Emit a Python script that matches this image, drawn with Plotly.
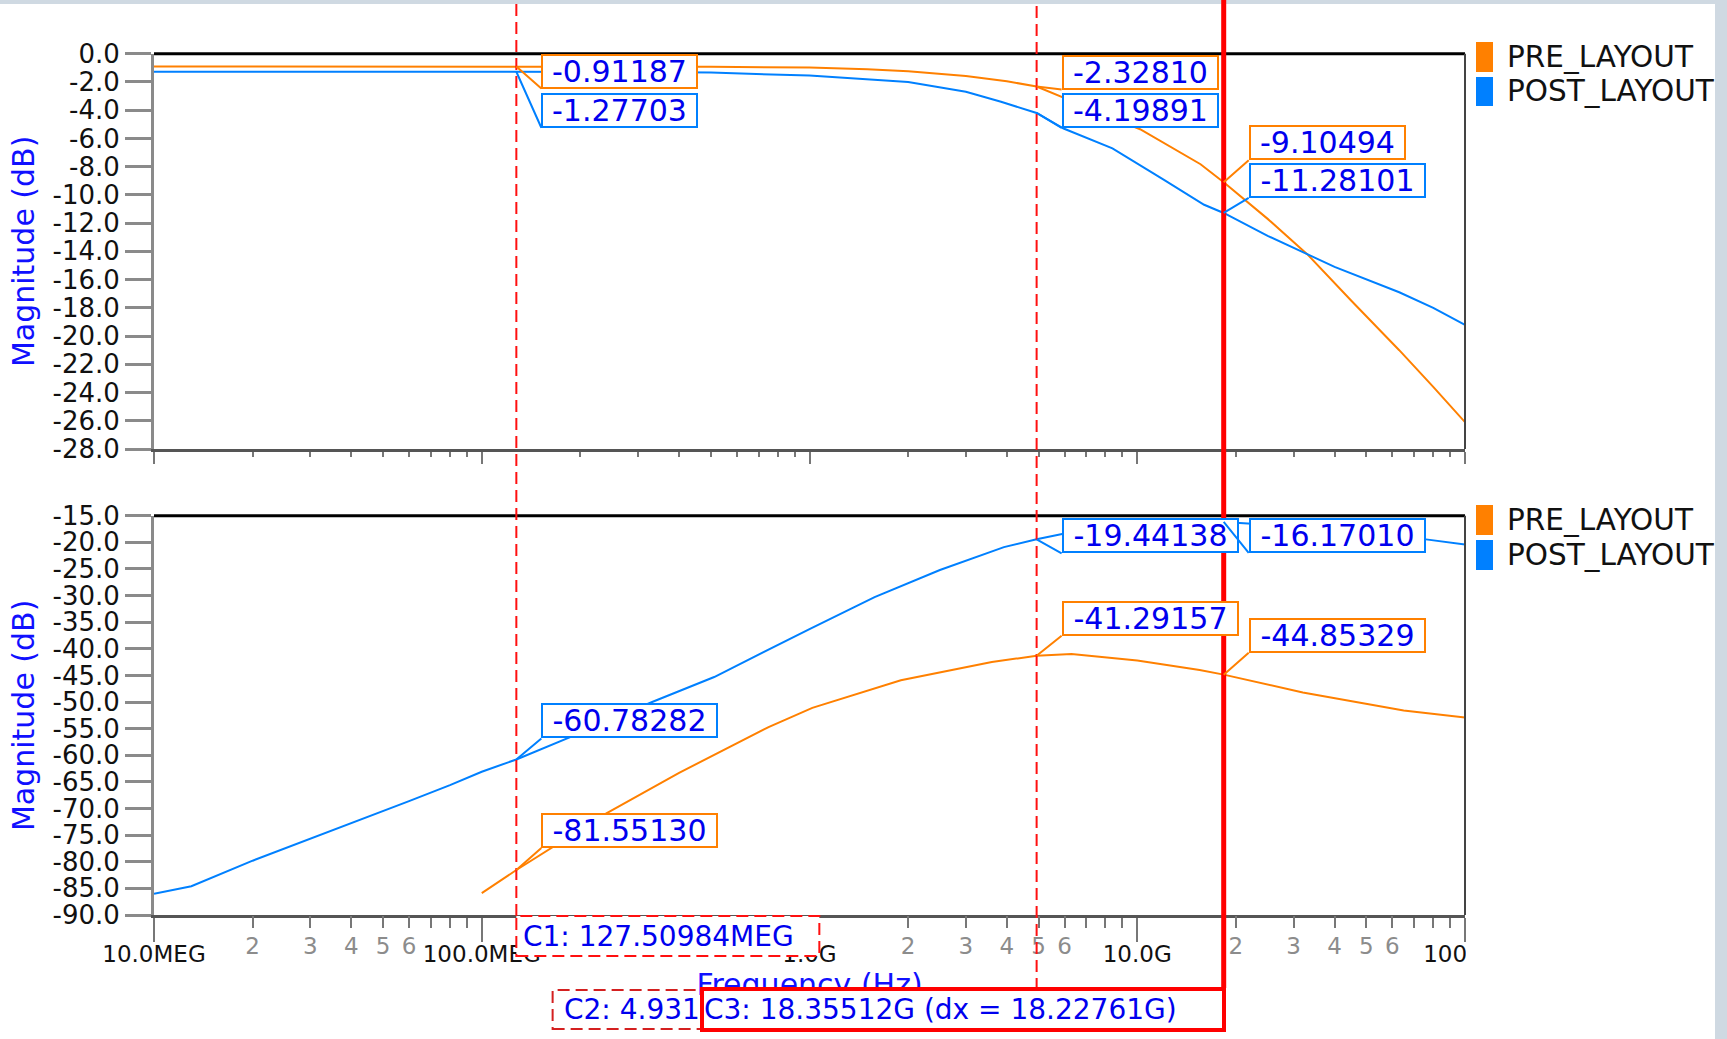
import math
import plotly.graph_objects as go

W, H = 1727, 1039
FONT = "DejaVu Sans"

# ---- cursor positions (Hz) ----
C1_HZ = 127.50984e6
C2_HZ = 4.93120e9
C3_HZ = 18.35512e9

SERIES = ["PRE_LAYOUT", "POST_LAYOUT"]
SERIES_COLORS = ["#ff8000", "#0080ff"]

# ---- upper panel: magnitude (dB) ----
top_pre_hz = [1e7, 5e7, C1_HZ, 3e8, 5e8, 1e9, 1.5e9, 2e9, 3e9, 4e9, C2_HZ, 7e9,
              1.02e10, 1.56e10, C3_HZ, 2.5e10, 3.3e10, 4.5e10, 6.3e10, 8e10, 1e11]
top_pre_db = [-0.91187, -0.91187, -0.91187, -0.915, -0.93, -0.98, -1.10, -1.25, -1.58, -1.95,
              -2.32810, -3.78, -5.35, -7.83, -9.10494, -11.7, -14.2, -17.5, -21.0, -23.6, -26.1]

top_post_hz = [1e7, 5e7, C1_HZ, 3e8, 5e8, 1e9, 2e9, 3e9, 3.84e9, C2_HZ, 5.96e9, 8.4e9,
               1.2e10, 1.6e10, C3_HZ, 2.5e10, 3.3e10, 4e10, 6.3e10, 8e10, 1e11]
top_post_db = [-1.27703, -1.27703, -1.27703, -1.29, -1.34, -1.55, -2.0, -2.7, -3.4, -4.19891,
               -5.3, -6.7, -8.9, -10.7, -11.28101, -12.9, -14.2, -15.1, -16.9, -18.0, -19.2]

# ---- lower panel: magnitude (dB) ----
bot_pre_hz = [1e8, C1_HZ, 2.4e8, 4e8, 7.5e8, 1.02e9, 1.9e9, 3.6e9, C2_HZ, 6.3e9, 1e10,
              1.55e10, C3_HZ, 3.2e10, 6.5e10, 1e11]
bot_pre_db = [-85.9, -81.55130, -70.9, -63.3, -54.7, -51.1, -45.9, -42.5, -41.29157, -41.0,
              -42.2, -44.0, -44.85329, -48.2, -51.6, -52.9]

bot_post_hz = [1e7, 1.3e7, 2e7, 3e7, 4e7, 5e7, 6e7, 8e7, 1e8, C1_HZ, 2e8, 3.31e8, 5.12e8,
               1e9, 1.23e9, 1.58e9, 2.5e9, 3.92e9, C2_HZ, 7e9, 1e10, 1.4e10, C3_HZ, 3e10,
               5e10, 7.5e10, 1e11]
bot_post_db = [-86.0, -84.6, -79.8, -75.7, -72.7, -70.4, -68.6, -65.6, -63.1, -60.78282,
               -55.8, -50.0, -45.3, -36.3, -33.6, -30.3, -25.2, -20.9, -19.44138, -17.5,
               -16.6, -16.15, -16.17010, -17.0, -18.3, -19.4, -20.4]

# ---- axis ticks ----
decade_hz = [1e7, 1e8, 1e9, 1e10, 1e11]
decade_labels = ["10.0MEG", "100.0MEG", "1.0G", "10.0G", "100.0G"]
minor_hz = [m * 10 ** e for e in range(7, 11) for m in range(2, 10)]
labeled_minor_hz = [m * 10 ** e for e in range(7, 11) for m in range(2, 7)]
labeled_minor_text = [str(m) for e in range(7, 11) for m in range(2, 7)]
top_yticks = [0.0] + [-2.0 * i for i in range(1, 15)]
bot_yticks = [-15.0 - 5.0 * i for i in range(0, 16)]


def px(x):
    return x / W


def py(y):
    return 1 - y / H


def ytext(v):
    return "0.0" if v == 0 else f"{v:.1f}"


XDOM = [px(154), px(1465)]
TOP_DOM = [py(449), py(53.7)]
BOT_DOM = [py(915), py(515.7)]
PX_PER_DECADE = (XDOM[1] - XDOM[0]) * W / 4.0

fig = go.Figure()
# upper panel traces
fig.add_trace(go.Scatter(x=top_pre_hz, y=top_pre_db, mode="lines", name=SERIES[0],
                         xaxis="x", yaxis="y", line=dict(color=SERIES_COLORS[0], width=2)))
fig.add_trace(go.Scatter(x=top_post_hz, y=top_post_db, mode="lines", name=SERIES[1],
                         xaxis="x", yaxis="y", line=dict(color=SERIES_COLORS[1], width=2)))
# lower panel traces (x3 overlays x2 and only carries the 2..6 decade labels)
fig.add_trace(go.Scatter(x=bot_pre_hz, y=bot_pre_db, mode="lines", name=SERIES[0],
                         xaxis="x3", yaxis="y2", line=dict(color=SERIES_COLORS[0], width=2)))
fig.add_trace(go.Scatter(x=bot_post_hz, y=bot_post_db, mode="lines", name=SERIES[1],
                         xaxis="x2", yaxis="y2", line=dict(color=SERIES_COLORS[1], width=2)))
fig.update_traces(showlegend=False)

ytick_style = dict(ticks="outside", ticklen=26, tickwidth=3, tickcolor="#8a8a8a",
                   showline=True, linecolor="#8a8a8a", linewidth=3, showgrid=False,
                   zeroline=False, tickfont=dict(family=FONT, size=26, color="#111111"),
                   automargin=False, tickmode="array")
ytitle = dict(text="Magnitude (dB)", font=dict(family=FONT, size=30, color="#1010ff"),
              standoff=10)

fig.update_layout(
    width=W, height=H, autosize=False,
    margin=dict(l=0, r=0, t=0, b=0),
    paper_bgcolor="#cfd9e2", plot_bgcolor="white",
    showlegend=False,
    xaxis=dict(domain=XDOM, anchor="y", type="log", range=[7, 11], showgrid=False,
               zeroline=False, showline=True, linecolor="#555555", linewidth=3,
               ticks="outside", tickmode="array", tickvals=decade_hz, ticklen=12,
               tickwidth=2, tickcolor="#777777", showticklabels=False, automargin=False,
               minor=dict(tickmode="array", tickvals=minor_hz, ticks="outside", ticklen=5,
                          tickwidth=2, tickcolor="#777777")),
    yaxis=dict(domain=TOP_DOM, anchor="x", range=[-28, 0], tickvals=top_yticks,
               ticktext=[ytext(v) for v in top_yticks], title=ytitle, **ytick_style),
    xaxis2=dict(domain=XDOM, anchor="y2", type="log", range=[7, 11], showgrid=False,
                zeroline=False, showline=True, linecolor="#555555", linewidth=3,
                ticks="outside", tickmode="array", tickvals=decade_hz,
                ticktext=decade_labels, ticklen=24, tickwidth=2, tickcolor="#777777",
                ticklabelstandoff=-8,
                tickfont=dict(family=FONT, size=23, color="#111111"), automargin=False,
                title=dict(text="Frequency (Hz)", standoff=0,
                           font=dict(family=FONT, size=30, color="#1010ff")),
                minor=dict(tickmode="array", tickvals=minor_hz, ticks="outside", ticklen=10,
                           tickwidth=2, tickcolor="#777777")),
    xaxis3=dict(overlaying="x2", anchor="y2", type="log", range=[7, 11], showgrid=False,
                zeroline=False, showline=False, ticks="outside", tickmode="array",
                tickvals=labeled_minor_hz, ticktext=labeled_minor_text, ticklen=10,
                tickwidth=2, tickcolor="#777777", automargin=False,
                tickfont=dict(family=FONT, size=23, color="#8c8c8c")),
    yaxis2=dict(domain=BOT_DOM, anchor="x2", range=[-90, -15], tickvals=bot_yticks,
                ticktext=[ytext(v) for v in bot_yticks], title=ytitle, **ytick_style),
)

shapes = []
# white page area over the textured backdrop
shapes.append(dict(type="rect", xref="paper", yref="paper", x0=0, x1=px(1715),
                   y0=0, y1=py(4), fillcolor="white", line=dict(width=0), layer="below"))
# plot frames: black top edge, dark right edge
for xa, ya in (("x", "y"), ("x2", "y2")):
    shapes.append(dict(type="line", xref=f"{xa} domain", yref=f"{ya} domain",
                       x0=0, x1=1, y0=1, y1=1, line=dict(color="black", width=3)))
    shapes.append(dict(type="line", xref=f"{xa} domain", yref=f"{ya} domain",
                       x0=1, x1=1, y0=0, y1=1, line=dict(color="#444444", width=2)))
# the last decade label is cut at the frame edge
shapes.append(dict(type="rect", xref="paper", yref="paper", x0=px(1466), x1=px(1714),
                   y0=py(975), y1=py(925), fillcolor="white", line=dict(width=0)))

DASH = "12px,6px"
RED = "#ff1010"
# cursor C1 (dashed) with its readout box
shapes.append(dict(type="line", xref="x2", yref="paper", x0=C1_HZ, x1=C1_HZ,
                   y0=py(916), y1=py(0), line=dict(color=RED, width=2, dash=DASH)))
shapes.append(dict(type="rect", xref="x2", yref="paper", xsizemode="pixel", xanchor=C1_HZ,
                   x0=0, x1=303, y0=py(956), y1=py(916), fillcolor="white",
                   line=dict(color=RED, width=2, dash=DASH)))
# cursor C2 (dashed) with its readout box, 484 px wide ending on the cursor
shapes.append(dict(type="line", xref="x2", yref="paper", x0=C2_HZ, x1=C2_HZ,
                   y0=py(990), y1=py(0), line=dict(color=RED, width=2, dash=DASH)))
shapes.append(dict(type="rect", xref="x2", yref="paper",
                   x0=C2_HZ / 10 ** (484 / PX_PER_DECADE), x1=C2_HZ,
                   y0=py(1029), y1=py(990), fillcolor="white",
                   line=dict(color="#d42020", width=2, dash=DASH)))
# cursor C3 (solid, active)
shapes.append(dict(type="line", xref="x2", yref="paper", x0=C3_HZ, x1=C3_HZ,
                   y0=py(988), y1=py(0), line=dict(color="#ff0000", width=5)))

# legends: colour swatch + name for each panel
legend_rows = [(42, 72, 57), (77, 106, 91.5)], [(505, 535, 520), (540, 570, 555)]
annotations = []
for rows in legend_rows:
    for name, color, (y0, y1, yc) in zip(SERIES, SERIES_COLORS, rows):
        shapes.append(dict(type="rect", xref="paper", yref="paper", x0=px(1476),
                           x1=px(1493), y0=py(y1), y1=py(y0), fillcolor=color,
                           line=dict(width=0)))
        annotations.append(dict(xref="paper", yref="paper", x=px(1505), y=py(yc),
                                xanchor="left", yanchor="middle", showarrow=False,
                                text=name, font=dict(family=FONT, size=29.5, color="#111111")))

# cursor readouts on each trace
cursors = [C1_HZ, C2_HZ, C3_HZ]
panel_series = [
    ("x", "y", [(top_pre_hz, top_pre_db), (top_post_hz, top_post_db)]),
    ("x2", "y2", [(bot_pre_hz, bot_pre_db), (bot_post_hz, bot_post_db)]),
]
# pixel offset from the trace point to the lower-left corner of each readout box
box_offsets = {
    ("x", 0, 0): 22, ("x", 0, 1): 56,
    ("x", 1, 0): 3, ("x", 1, 1): 15,
    ("x", 2, 0): -22, ("x", 2, 1): -15,
    ("x2", 0, 0): -22, ("x2", 0, 1): -21,
    ("x2", 1, 0): -20, ("x2", 1, 1): 14,
    ("x2", 2, 0): -22, ("x2", 2, 1): 31,
}
for xa, ya, data in panel_series:
    for si, (f, v) in enumerate(data):
        for ci, c in enumerate(cursors):
            if c not in f:
                continue
            val = v[f.index(c)]
            txt = f"{val:.5f}"
            annotations.append(dict(
                xref=xa, yref=ya, x=math.log10(c), y=val, text=txt,
                showarrow=True, arrowhead=0, arrowwidth=2, arrowcolor=SERIES_COLORS[si],
                axref="pixel", ayref="pixel", ax=25, ay=box_offsets[(xa, ci, si)],
                xanchor="left", yanchor="bottom",
                width=151 if len(txt) <= 8 else 171, height=29, align="center",
                bgcolor="white", bordercolor=SERIES_COLORS[si], borderwidth=2, borderpad=1,
                font=dict(family=FONT, size=30, color="#0000ee")))

# cursor value boxes below the axis
annotations.append(dict(xref="x2", yref="paper", x=math.log10(C1_HZ), y=py(936),
                        xanchor="left", yanchor="middle", xshift=5, showarrow=False,
                        text=f"C1: {C1_HZ / 1e6:.5f}MEG",
                        font=dict(family=FONT, size=28, color="#0000ee")))
annotations.append(dict(xref="x2", yref="paper", x=math.log10(C2_HZ), y=py(1009.5),
                        xanchor="right", yanchor="middle", xshift=-3, showarrow=False,
                        width=470, height=33, borderpad=0, borderwidth=0, align="left",
                        text=f"C2: {C2_HZ / 1e9:.5f}G (dx = {(C2_HZ - C1_HZ) / 1e9:.5f}G)",
                        font=dict(family=FONT, size=28, color="#0000ee")))
annotations.append(dict(xref="x2", yref="paper", x=math.log10(C3_HZ), y=py(1009),
                        xanchor="right", yanchor="middle", xshift=2, showarrow=False,
                        width=518, height=37, borderpad=0, borderwidth=4, align="left",
                        bgcolor="white", bordercolor="#ff0000",
                        text=f"C3: {C3_HZ / 1e9:.5f}G (dx = {(C3_HZ - C1_HZ) / 1e9:.5f}G)",
                        font=dict(family=FONT, size=28, color="#0000ee")))

fig.update_layout(shapes=shapes, annotations=annotations)
fig.write_html("out.html")
